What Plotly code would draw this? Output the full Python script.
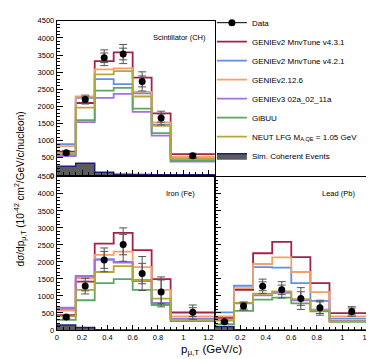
import plotly.graph_objects as go

# ---------------- data ----------------
bin_edges = [0.0, 0.15, 0.30, 0.45, 0.60, 0.75, 0.90, 1.25]
bin_centers = [0.075, 0.225, 0.375, 0.525, 0.675, 0.825, 1.075]

model_names = [
    "GENIEv2 MnvTune v4.3.1",
    "GENIEv2 MnvTune v4.2.1",
    "GENIEv2.12.6",
    "GENIEv3 02a_02_11a",
    "GiBUU",
    "NEUT LFG M<sub>A,QE</sub> = 1.05 GeV",
]
model_colors = ["#a3214b", "#5f8fe6", "#f5a066", "#a56ee4", "#5ba865", "#b5a83a"]

# Scintillator (CH)
ch_data = [650, 2200, 3420, 3530, 2730, 1660, 560]
ch_stat = [40, 80, 140, 170, 160, 120, 45]
ch_tot = [60, 130, 230, 280, 280, 200, 70]
ch_models = [
    [680, 2100, 3320, 3575, 2840, 1795, 605],   # v4.3.1
    [900, 2250, 2795, 2650, 2385, 1460, 470],   # v4.2.1
    [840, 2290, 3080, 3110, 2425, 1530, 530],   # 2.12.6
    [550, 1540, 2250, 2365, 1840, 1145, 390],   # v3
    [575, 1600, 2460, 2540, 1935, 1220, 420],   # GiBUU
    [630, 1965, 2935, 3030, 2290, 1435, 485],   # NEUT
]
ch_coh = [250, 340, 80, 20, 10, 5, 2]

# Iron (Fe)
fe_data = [380, 1290, 2060, 2510, 1660, 1120, 525]
fe_stat = [40, 140, 250, 300, 300, 350, 130]
fe_tot = [60, 230, 350, 490, 500, 440, 210]
fe_models = [
    [440, 1420, 2540, 2855, 2350, 1495, 515],   # v4.3.1
    [660, 1560, 2085, 2000, 1470, 800, 335],    # v4.2.1
    [570, 1515, 2210, 2305, 1845, 1180, 400],   # 2.12.6
    [620, 1590, 2060, 1980, 1440, 780, 320],    # v3
    [300, 875, 1380, 1495, 1180, 735, 260],     # GiBUU
    [400, 1180, 1705, 1875, 1465, 925, 300],    # NEUT
]
fe_coh = [150, 75, 5, 2, 1, 1, 0]

# Lead (Pb)
pb_data = [240, 705, 1285, 1180, 925, 655, 545]
pb_stat = [30, 90, 130, 140, 200, 170, 100]
pb_tot = [45, 120, 210, 240, 320, 220, 140]
pb_models = [
    [360, 1180, 2255, 2590, 2140, 1380, 495],   # v4.3.1
    [520, 1300, 1845, 1830, 1380, 855, 335],    # v4.2.1
    [400, 1230, 1940, 2135, 1705, 1115, 400],   # 2.12.6
    [280, 780, 1020, 1095, 875, 600, 270],      # v3
    [170, 560, 895, 950, 780, 545, 240],        # GiBUU
    [290, 800, 1065, 1135, 905, 590, 255],      # NEUT
]
pb_coh = [100, 10, 2, 1, 0, 0, 0]

y_ticks = [0, 500, 1000, 1500, 2000, 2500, 3000, 3500, 4000, 4500]
x_ticks = [0, 0.2, 0.4, 0.6, 0.8, 1.0, 1.2]
x_tick_text = ["0", "0.2", "0.4", "0.6", "0.8", "1", "1.2"]

# ---------------- figure ----------------
FONT = "Liberation Sans, Arial, sans-serif"
fig = go.Figure()

panels = [
    ("x", "y", ch_data, ch_stat, ch_tot, ch_models, ch_coh, True),
    ("x2", "y2", fe_data, fe_stat, fe_tot, fe_models, fe_coh, False),
    ("x3", "y3", pb_data, pb_stat, pb_tot, pb_models, pb_coh, False),
]

def step(vals):
    return list(vals) + [vals[-1]]

for xa, ya, dat, stat, tot, models, coh, leg in panels:
    fig.add_trace(go.Scatter(
        x=bin_edges, y=step(coh), xaxis=xa, yaxis=ya, mode="lines",
        line=dict(shape="hv", color="#1f1f80", width=1.5),
        fill="tozeroy", fillcolor="#5c5c5c",
        name="Sim. Coherent Events", showlegend=leg, legendrank=900,
    ))
    for i, (nm, col) in enumerate(zip(model_names, model_colors)):
        fig.add_trace(go.Scatter(
            x=bin_edges, y=step(models[i]), xaxis=xa, yaxis=ya, mode="lines",
            line=dict(shape="hv", color=col, width=1.8),
            name=nm, showlegend=leg, legendrank=100 + i,
        ))
    fig.add_trace(go.Scatter(
        x=bin_centers, y=dat, xaxis=xa, yaxis=ya, mode="markers",
        marker=dict(color="rgba(0,0,0,0)", size=1),
        error_y=dict(type="data", array=tot, color="#555555", thickness=1, width=4),
        showlegend=False,
    ))
    fig.add_trace(go.Scatter(
        x=bin_centers, y=dat, xaxis=xa, yaxis=ya, mode="markers",
        marker=dict(color="black", size=7),
        error_y=dict(type="data", array=stat, color="#555555", thickness=1, width=4),
        showlegend=False,
    ))

# legend entry for the data (line + marker)
fig.add_trace(go.Scatter(
    x=[None], y=[None], xaxis="x", yaxis="y", mode="lines+markers",
    line=dict(color="black", width=1), marker=dict(color="black", size=7),
    name="Data", legendrank=1,
))

minor_y = [v for v in range(0, 4501, 100)]
minor_x = [round(0.05 * k, 2) for k in range(0, 26)]

def yaxis(domain, labels):
    return dict(
        domain=domain, range=[0, 4500], tickmode="array", tickvals=y_ticks,
        ticktext=[str(v) for v in y_ticks], showticklabels=labels,
        ticks="inside", ticklen=6, tickcolor="black", tickwidth=1,
        minor=dict(tickvals=minor_y, ticks="inside", ticklen=3, tickcolor="black"),
        showline=True, linecolor="black", linewidth=1, mirror=True,
        showgrid=False, zeroline=False,
        tickfont=dict(family=FONT, size=7.5, color="black"),
    )

def xaxis(domain, anchor, labels, txt):
    return dict(
        domain=domain, range=[0, 1.25], anchor=anchor, tickmode="array",
        tickvals=x_ticks, ticktext=txt, showticklabels=labels,
        ticks="inside", ticklen=5, tickcolor="black", tickwidth=1,
        minor=dict(tickvals=minor_x, ticks="inside", ticklen=3, tickcolor="black"),
        showline=True, linecolor="black", linewidth=1, mirror=True,
        showgrid=False, zeroline=False,
        tickfont=dict(family=FONT, size=7.5, color="black"),
    )

W, H = 374, 359
dx_left = [47 / W, 206 / W]
dx_right = [206 / W, 366 / W]
dy_top = [1 - 166 / H, 1 - 7 / H]
dy_bot = [1 - 326 / H, 1 - 168 / H]

lead_txt = [""] + x_tick_text[1:]

fig.update_layout(
    width=W, height=H, margin=dict(l=0, r=0, t=0, b=0),
    paper_bgcolor="white", plot_bgcolor="white",
    font=dict(family=FONT, color="black"),
    xaxis=xaxis(dx_left, "y", False, x_tick_text),
    yaxis=yaxis(dy_top, True) | dict(anchor="x"),
    xaxis2=xaxis(dx_left, "y2", True, x_tick_text),
    yaxis2=yaxis(dy_bot, True) | dict(anchor="x2"),
    xaxis3=xaxis(dx_right, "y3", True, lead_txt),
    yaxis3=yaxis(dy_bot, False) | dict(anchor="x3"),
    legend=dict(
        x=203 / W, y=1 + 6 / H, xanchor="left", yanchor="top",
        font=dict(family=FONT, size=8, color="black"),
        bgcolor="rgba(0,0,0,0)", itemwidth=30, traceorder="normal",
    ),
    showlegend=True,
)

ann_font = dict(family=FONT, size=7.5, color="black")
fig.add_annotation(text="Scintillator (CH)", xref="x domain", yref="y domain",
                   x=0.595, y=0.893, xanchor="left", yanchor="middle",
                   showarrow=False, font=ann_font)
fig.add_annotation(text="Iron (Fe)", xref="x2 domain", yref="y2 domain",
                   x=0.68, y=0.892, xanchor="left", yanchor="middle",
                   showarrow=False, font=ann_font)
fig.add_annotation(text="Lead (Pb)", xref="x3 domain", yref="y3 domain",
                   x=0.663, y=0.892, xanchor="left", yanchor="middle",
                   showarrow=False, font=ann_font)
fig.add_annotation(text="p<sub>μ,T</sub> (GeV/c)", xref="paper", yref="paper",
                   x=170 / W, y=1 - 347 / H, xanchor="left", yanchor="middle",
                   showarrow=False, font=dict(family=FONT, size=11.5, color="black"))
fig.add_annotation(text="dσ/dp<sub>μ,T</sub> (10<sup>-42</sup> cm<sup>2</sup>/GeV/c/nucleon)",
                   xref="paper", yref="paper", x=11 / W, y=1 - 180 / H,
                   xanchor="center", yanchor="middle", textangle=-90,
                   showarrow=False, font=dict(family=FONT, size=10, color="black"))

fig.write_html("out.html")
